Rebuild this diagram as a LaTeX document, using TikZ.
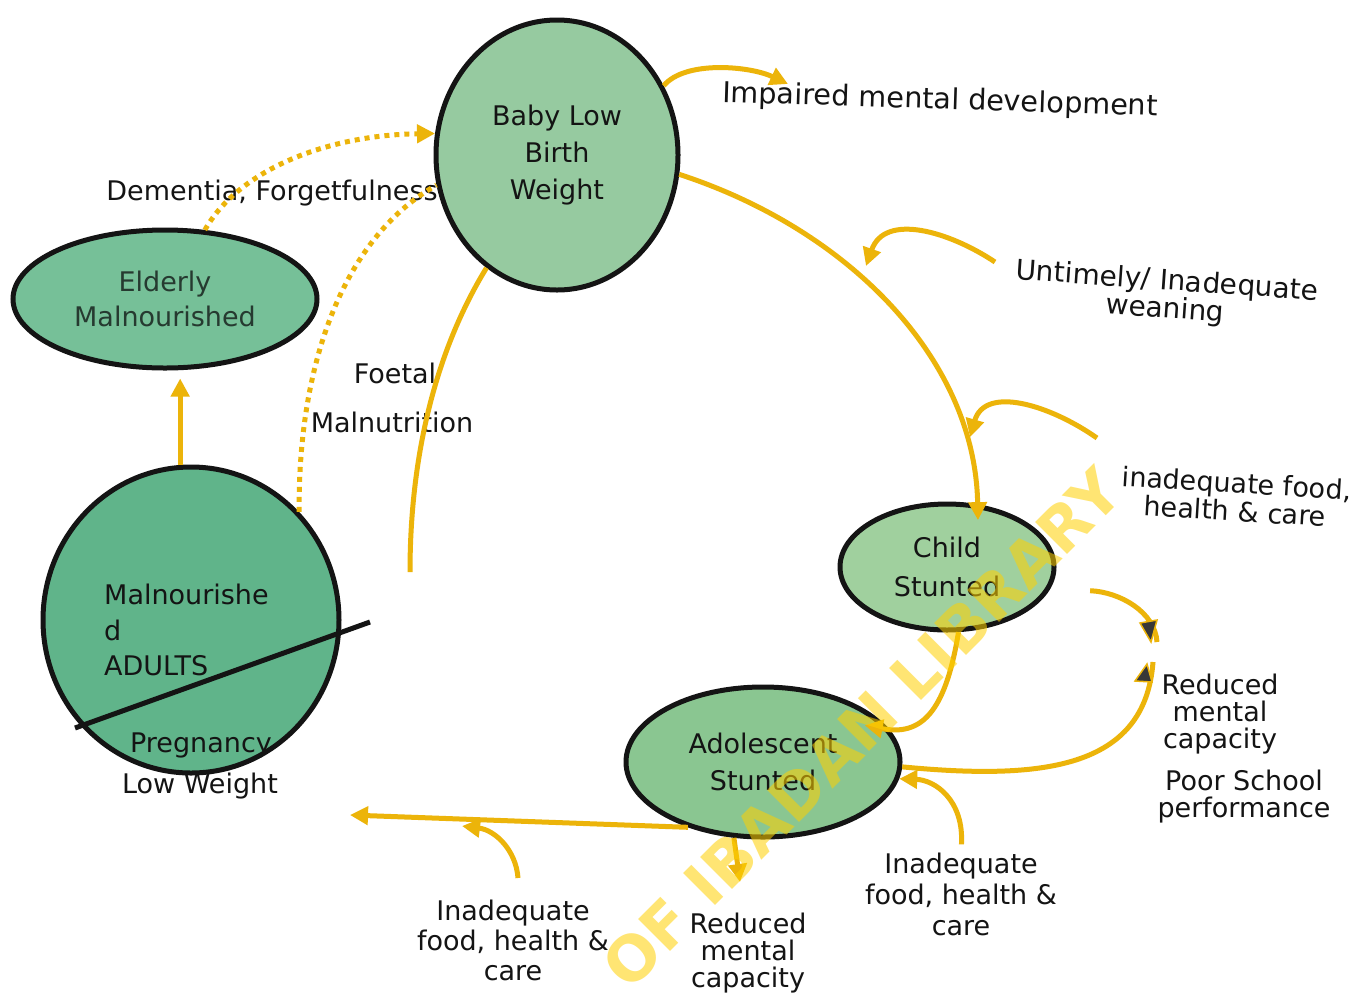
\documentclass[tikz,border=0pt]{standalone}
\usepackage{fontspec}
\setmainfont{DejaVu Sans}
\usetikzlibrary{shapes.geometric,arrows.meta}
\definecolor{yel}{RGB}{236,180,10}
\definecolor{wm}{RGB}{255,208,0}
\definecolor{gBaby}{RGB}{150,202,160}
\definecolor{gEld}{RGB}{118,192,152}
\definecolor{gAd}{RGB}{96,180,138}
\definecolor{gChild}{RGB}{160,208,158}
\definecolor{gAdo}{RGB}{138,198,145}
\definecolor{ink}{RGB}{20,20,20}
\definecolor{eldink}{RGB}{38,58,48}
\begin{document}
\begin{tikzpicture}[x=1pt,y=-1pt,
  bubble/.style={ellipse,draw=ink,line width=5pt,inner sep=0pt,align=center,text=ink,font=\fontsize{27}{37}\selectfont},
  lbl/.style={align=center,text=ink,inner sep=0pt,font=\fontsize{27}{28}\selectfont},
  conn/.style={draw=yel,line width=5pt},
  arr/.style={conn,-{Triangle[length=18pt,width=18pt]}},
  darktip/.style={fill=black!78,draw=yel,line width=1.5pt,line join=miter},
  dots/.style={draw=yel,line width=5pt,dash pattern=on 5pt off 5pt},
]
\useasboundingbox (0,0) rectangle (1354,997);
\fill[white] (0,0) rectangle (1354,997);

% main nodes
\node[bubble,fill=gBaby,minimum width=242pt,minimum height=270pt] (b) at (557,155) {Baby Low\\Birth\\Weight};
\node[bubble,fill=gEld,minimum width=304pt,minimum height=138pt,font=\fontsize{27}{35}\selectfont,text=eldink] (e) at (165,299) {Elderly\\Malnourished};
\node[bubble,fill=gAd,minimum width=296pt,minimum height=306pt] (a) at (191,620) {};
\node[bubble,fill=gChild,minimum width=214pt,minimum height=126pt,font=\fontsize{27}{39}\selectfont] (c) at (947,567) {Child\\Stunted};
\node[bubble,fill=gAdo,minimum width=274pt,minimum height=150pt] (d) at (763,762) {Adolescent\\Stunted};

% dividing line in adults circle
\coordinate (sl1) at (75,728);
\coordinate (sl2) at (370,622);
\draw[ink,line width=5pt] (sl1) -- (sl2);

% adults labels
\node[lbl,align=left,anchor=west,font=\fontsize{27}{35.5}\selectfont] (al) at (104,630) {Malnourishe\\d\\ADULTS};
\node[lbl] (ap) at (201,745) {Pregnancy};
\node[lbl] (aw) at (200,786) {Low Weight};

% text labels
\node[lbl,rotate=-1.8,font=\fontsize{28.7}{30}\selectfont] (t1) at (940,101) {Impaired mental development};
\node[lbl,rotate=-4,font=\fontsize{28}{28}\selectfont] (t2) at (1166,296) {Untimely/ Inadequate\\weaning};
\node[lbl,rotate=-3.5] (t3) at (1236,497) {inadequate food,\\health \& care};
\node[lbl,font=\fontsize{27}{27}\selectfont] (t4) at (1220,714) {Reduced\\mental\\capacity};
\node[lbl,font=\fontsize{27}{27}\selectfont] (t5) at (1244,797) {Poor School\\performance};
\node[lbl,font=\fontsize{27}{31}\selectfont] (t6) at (961,894) {Inadequate\\food, health \&\\care};
\node[lbl,font=\fontsize{27}{30}\selectfont] (t7) at (513,940) {Inadequate\\food, health \&\\care};
\node[lbl,font=\fontsize{27}{27}\selectfont] (t8) at (748,953) {Reduced\\mental\\capacity};
\node[lbl] (t9) at (272,193) {Dementia, Forgetfulness};
\node[lbl] (t10) at (395,373) {Foetal};
\node[lbl] (t11) at (392,422) {Malnutrition};

% free ends
\coordinate (impTip) at (788,84);
\coordinate (untS) at (995,262);
\coordinate (untT) at (866,266);
\coordinate (inaS) at (1097,438);
\coordinate (inaT) at (970,437);
\coordinate (rcE1) at (1157,642);
\coordinate (rcT1) at (1151,642);
\coordinate (rcE2) at (1153,662);
\coordinate (rcT2) at (1147,664);
\coordinate (leftT) at (350,815);
\coordinate (brS) at (518,878);
\coordinate (brT) at (462,826);
\coordinate (rmT) at (740,882);
\coordinate (foetE) at (410,572);

% connectors
\draw[arr] (b.33) .. controls (685,60) and (750,66) .. (impTip);
\draw[arr,shorten >=-16pt] (b.-9) .. controls (850,230) and (975,360) .. (c.64);
\draw[arr] (untS) .. controls (950,232) and (885,212) .. (untT);
\draw[arr] (inaS) .. controls (1050,405) and (985,385) .. (inaT);
\draw[arr,shorten >=-26pt] (c.-80) .. controls (945,715) and (920,736) .. (d.14);
\draw[conn,shorten <=40pt] (c.-12) .. controls (1120,592) and (1155,612) .. (rcE1);
\filldraw[darktip] (rcT1) -- ++(-11,-19) -- ++(17,-3) -- cycle;
\draw[conn] (d.-2) .. controls (1040,780) and (1145,770) .. (rcE2);
\filldraw[darktip] (rcT2) -- ++(-12,17) -- ++(17,1) -- cycle;
\draw[arr,shorten <=8pt] (t6.north) .. controls (964,800) and (935,780) .. (d.-7);
\draw[arr] (d.221) -- (leftT);
\draw[arr] (brS) .. controls (516,850) and (495,830) .. (brT);
\draw[arr] (d.-111) -- (rmT);
\draw[arr,shorten >=8pt] (a.94) -- (a.94 |- e.south);
\draw[conn] (b.-122) .. controls (430,360) and (410,470) .. (foetE);
\draw[dots,-{Triangle[length=18pt,width=18pt]}] (e.60) .. controls (240,168) and (330,135) .. (b.170);
\draw[dots] (a.45) .. controls (298,370) and (340,240) .. (b.194);

% watermark
\node[text=wm,opacity=0.55,rotate=45,inner sep=0pt,font=\fontsize{62}{62}\selectfont\bfseries] (wmk) at (862,728) {OF IBADAN LIBRARY};
\end{tikzpicture}
\end{document}
